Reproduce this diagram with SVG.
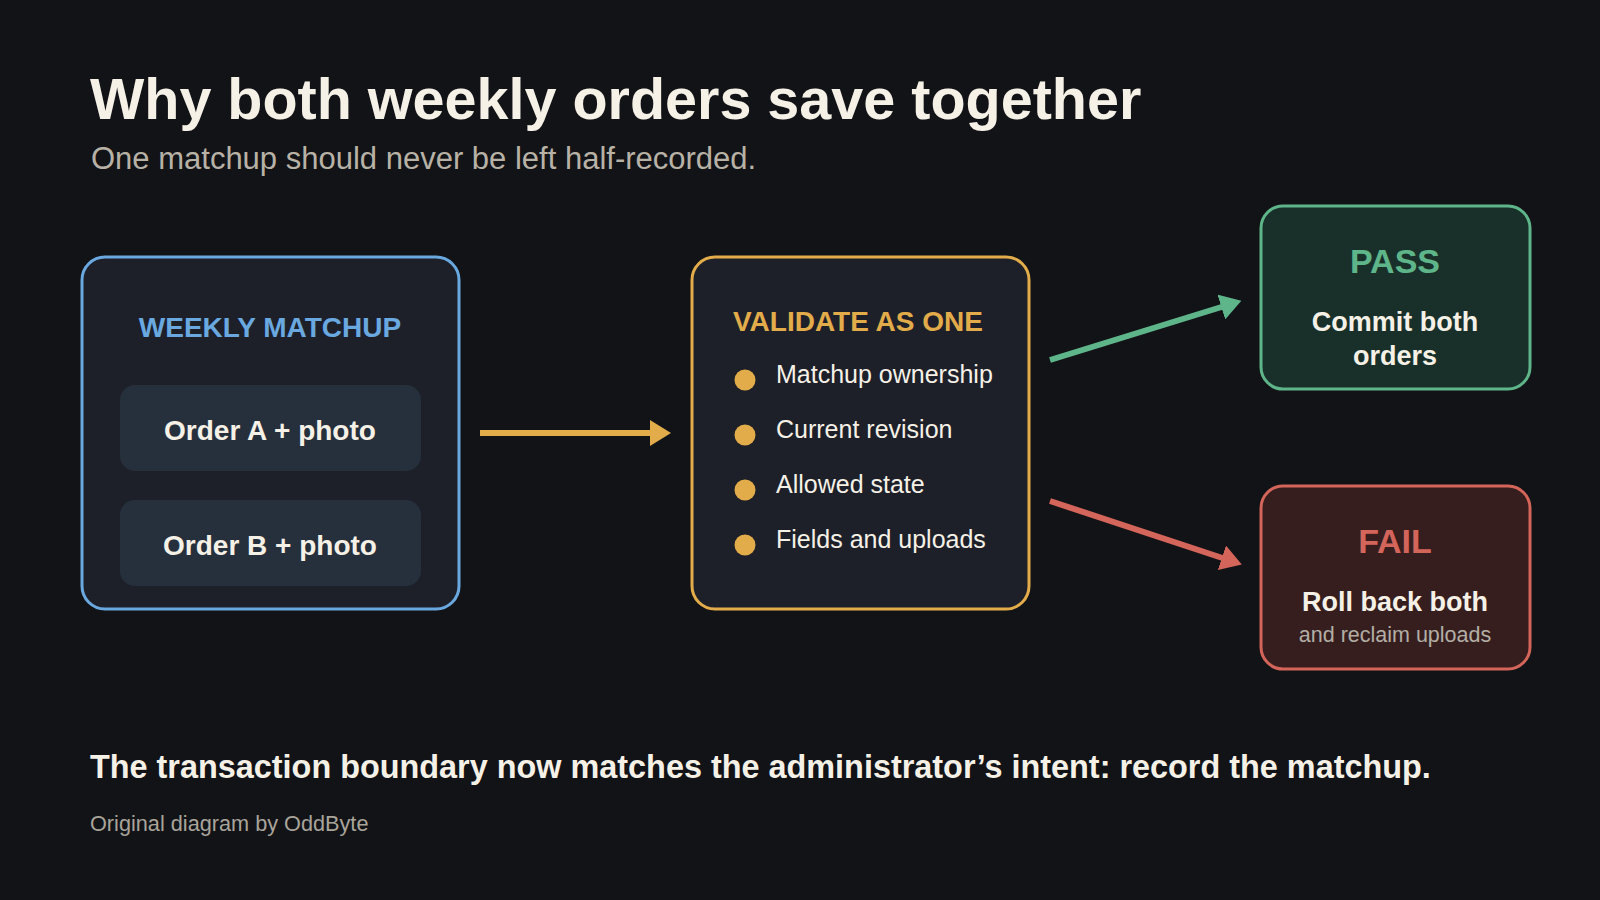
<svg xmlns="http://www.w3.org/2000/svg" width="1600" height="900" viewBox="0 0 1600 900">
<style>
text{font-family:"Liberation Sans",Arial,sans-serif}
.b{font-weight:700}
.cream{fill:#f6f1e7}
.box{fill:#1d2029;stroke-width:3}
.card{fill:#26303d}
.item{font-size:25px;fill:#f6f1e7}
.dot{fill:#e3ac4a}
.conn{fill:none;stroke-width:6}
</style>
<defs>
<marker id="hY" markerUnits="userSpaceOnUse" markerWidth="21" markerHeight="26" refX="7" refY="13" orient="auto"><path d="M0,0 L21,13 L0,26 Z" fill="#e3ac4a"/></marker>
<marker id="hG" markerUnits="userSpaceOnUse" markerWidth="21" markerHeight="26" refX="7" refY="13" orient="auto"><path d="M0,0 L21,13 L0,26 Z" fill="#5fb58a"/></marker>
<marker id="hR" markerUnits="userSpaceOnUse" markerWidth="21" markerHeight="26" refX="7" refY="13" orient="auto"><path d="M0,0 L21,13 L0,26 Z" fill="#d4655a"/></marker>
</defs>
<rect width="1600" height="900" fill="#121317"/>
<g id="header">
<text x="90" y="119" class="b cream" font-size="57.5">Why both weekly orders save together</text>
<text x="91" y="169" font-size="31" fill="#b8b2a6">One matchup should never be left half-recorded.</text>
</g>
<g id="weekly-matchup">
<rect x="82" y="257" width="377" height="352" rx="23" class="box" stroke="#6aa8e0"/>
<text x="270" y="337" text-anchor="middle" class="b" font-size="28" fill="#6aa8e0">WEEKLY MATCHUP</text>
<g id="order-a">
<rect x="120" y="385" width="301" height="86" rx="15" class="card"/>
<text x="270" y="440" text-anchor="middle" class="b cream" font-size="28">Order A + photo</text>
</g>
<g id="order-b">
<rect x="120" y="500" width="301" height="86" rx="15" class="card"/>
<text x="270" y="555" text-anchor="middle" class="b cream" font-size="28">Order B + photo</text>
</g>
</g>
<g id="validate">
<rect x="692" y="257" width="337" height="352" rx="23" class="box" stroke="#e3ac4a"/>
<text x="733" y="331" class="b" font-size="28" fill="#e3ac4a">VALIDATE AS ONE</text>
<circle cx="745" cy="380" r="10.5" class="dot"/>
<text x="776" y="383" class="item">Matchup ownership</text>
<circle cx="745" cy="435" r="10.5" class="dot"/>
<text x="776" y="438" class="item">Current revision</text>
<circle cx="745" cy="490" r="10.5" class="dot"/>
<text x="776" y="493" class="item">Allowed state</text>
<circle cx="745" cy="545" r="10.5" class="dot"/>
<text x="776" y="548" class="item">Fields and uploads</text>
</g>
<g id="pass">
<rect x="1261" y="206" width="269" height="183" rx="22" fill="#19302a" stroke="#5fb58a" stroke-width="3"/>
<text x="1395" y="273" text-anchor="middle" class="b" font-size="34" fill="#5fb58a">PASS</text>
<text x="1395" y="331" text-anchor="middle" class="b cream" font-size="27">Commit both</text>
<text x="1395" y="365" text-anchor="middle" class="b cream" font-size="27">orders</text>
</g>
<g id="fail">
<rect x="1261" y="486" width="269" height="183" rx="22" fill="#361e1f" stroke="#d4655a" stroke-width="3"/>
<text x="1395" y="553" text-anchor="middle" class="b" font-size="34" fill="#d4655a">FAIL</text>
<text x="1395" y="611" text-anchor="middle" class="b cream" font-size="27">Roll back both</text>
<text x="1395" y="642" text-anchor="middle" font-size="21.5" fill="#b3aea4">and reclaim uploads</text>
</g>
<g id="connectors">
<line x1="480" y1="433" x2="657" y2="433" class="conn" stroke="#e3ac4a" marker-end="url(#hY)"/>
<line x1="1050" y1="360" x2="1228" y2="305" class="conn" stroke="#5fb58a" marker-end="url(#hG)"/>
<line x1="1050" y1="501" x2="1228.5" y2="560" class="conn" stroke="#d4655a" marker-end="url(#hR)"/>
</g>
<g id="footer">
<text x="90" y="778" class="b cream" font-size="32.4">The transaction boundary now matches the administrator’s intent: record the matchup.</text>
<text x="90" y="831" font-size="21.7" fill="#a9a49a">Original diagram by OddByte</text>
</g>
</svg>
